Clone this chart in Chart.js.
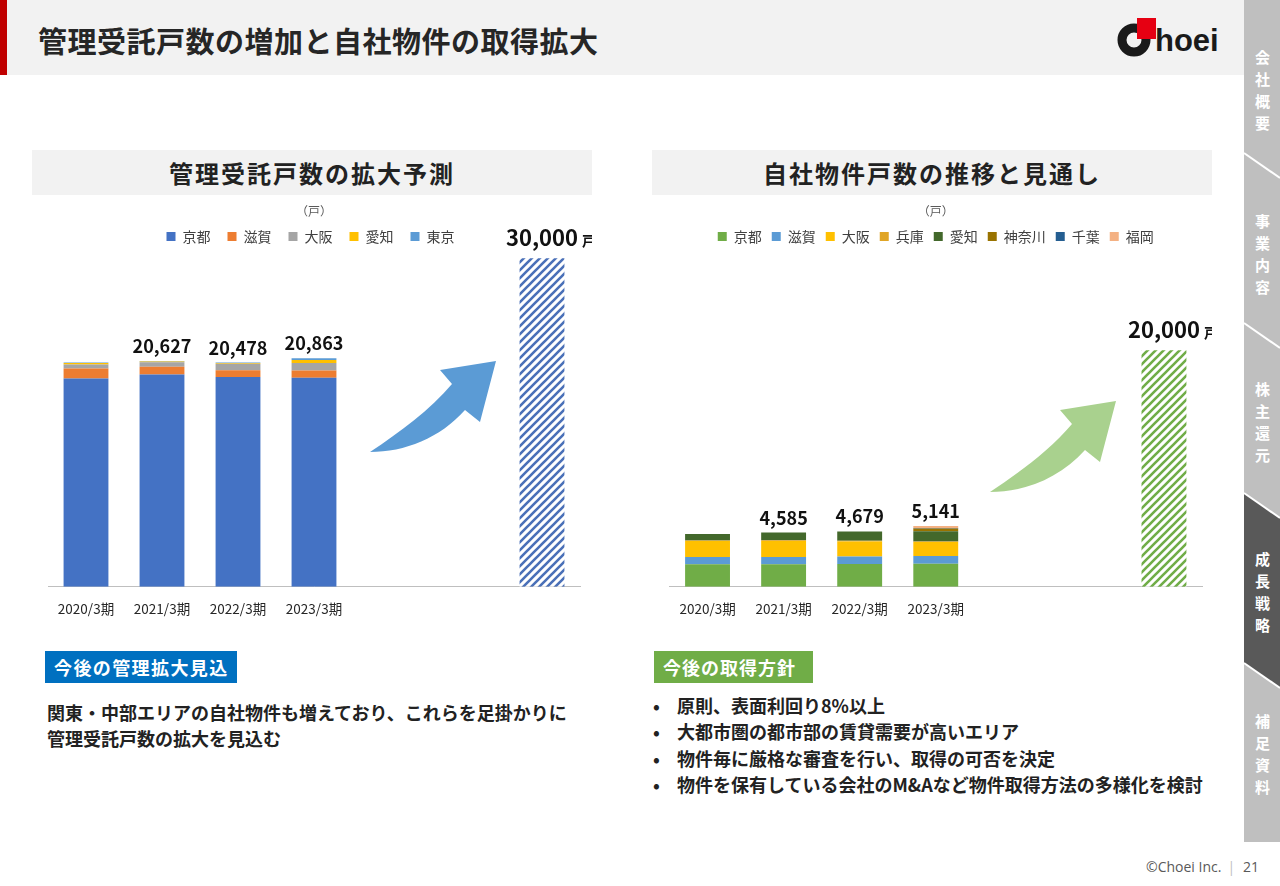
<!DOCTYPE html>
<html lang="ja">
<head>
<meta charset="UTF-8">
<title>管理受託戸数の増加と自社物件の取得拡大</title>
<script src="https://cdn.jsdelivr.net/npm/chart.js"></script>
<style>
  body { margin: 0; width: 1280px; height: 886px; overflow: hidden; background: #fff;
         font-family: 'Noto Sans CJK JP', sans-serif; color: #222; position: relative; }
  .abs { position: absolute; }
  .header { left: 0; top: 0; width: 1244px; height: 75px; background: #f2f2f2; }
  .redbar { left: 0; top: 0; width: 7px; height: 75px; background: #c00000; }
  .title { left: 38px; top: 22px; font-size: 29px; line-height: 36px; font-weight: 700; color: #262626; letter-spacing: 0.5px; }
  .ptitle { top: 150px; width: 560px; height: 45px; background: #f2f2f2; text-align: center;
            font-size: 24px; line-height: 45px; font-weight: 700; letter-spacing: 2px; color: #222; }
  .tag { top: 651px; height: 32px; color: #fff; font-size: 18px; line-height: 32px; font-weight: 700;
         padding-left: 9px; box-sizing: border-box; }
  .body { left: 47px; top: 699px; font-size: 18px; line-height: 26px; font-weight: 700; }
  .bullets { left: 653px; top: 692px; margin: 0; padding: 0; list-style: none; font-size: 18px;
             line-height: 26.3px; font-weight: 700; }
  .bullets li span { display: inline-block; width: 24px; }
  .side { width: 36px; left: 1244px; color: #fff; font-size: 15px; font-weight: 700;
          writing-mode: vertical-rl; letter-spacing: 7px; text-align: center; line-height: 36px; }
  .foot { left: 1146px; top: 857px; font-size: 14px; color: #595959; font-family: 'Open Sans', sans-serif; }
  .foot i { font-style: normal; color: #bfbfbf; margin: 0 8px 0 6px; }
</style>
</head>
<body>
<div class="abs header"></div>
<div class="abs redbar"></div>
<div class="abs title">管理受託戸数の増加と自社物件の取得拡大</div>

<svg class="abs" style="left:0;top:0" width="1280" height="886">
  <!-- side navigation -->
  <rect x="1244" y="0" width="36" height="842" fill="#bfbfbf"/>
  <polygon points="1244,493 1280,518 1280,688 1244,663" fill="#595959"/>
  <g stroke="#fff" stroke-width="2">
    <line x1="1244" y1="153" x2="1280" y2="178"/>
    <line x1="1244" y1="323" x2="1280" y2="348"/>
    <line x1="1244" y1="493" x2="1280" y2="518"/>
    <line x1="1244" y1="663" x2="1280" y2="688"/>
  </g>
  <!-- logo -->
  <circle cx="1134" cy="40" r="12" fill="none" stroke="#1a1a1a" stroke-width="9"/>
  <rect x="1137" y="18" width="19" height="21" fill="#e60012"/>
  <text x="1155" y="51" font-family="Liberation Sans, Arial, sans-serif" font-weight="700" font-size="31" fill="#1a1a1a">hoei</text>
  <!-- arrows -->
  <path d="M370 452 C405 452 440 438 465 410 L480 422 L496 361 L440 370 L452 384 C430 410 400 432 370 452 Z" fill="#5b9bd5"/>
  <path d="M370 452 C405 452 440 438 465 410 L480 422 L496 361 L440 370 L452 384 C430 410 400 432 370 452 Z" fill="#a9d18e" transform="translate(620,40)"/>
</svg>

<div class="abs side" style="top:50px">会社概要</div>
<div class="abs side" style="top:214px">事業内容</div>
<div class="abs side" style="top:382px">株主還元</div>
<div class="abs side" style="top:552px">成長戦略</div>
<div class="abs side" style="top:714px">補足資料</div>

<div class="abs ptitle" style="left:32px">管理受託戸数の拡大予測</div>
<div class="abs ptitle" style="left:652px">自社物件戸数の推移と見通し</div>

<div class="abs" style="left:32px;top:198px"><canvas id="mgmtChart" width="560" height="436"></canvas></div>
<div class="abs" style="left:652px;top:198px"><canvas id="ownChart" width="560" height="436"></canvas></div>

<div class="abs tag" style="left:45px;width:192px;background:#0070c0;letter-spacing:1.4px">今後の管理拡大見込</div>
<div class="abs body">関東・中部エリアの自社物件も増えており、これらを足掛かりに<br>管理受託戸数の拡大を見込む</div>

<div class="abs tag" style="left:654px;width:159px;background:#70ad47;letter-spacing:1px">今後の取得方針</div>
<ul class="abs bullets">
  <li><span>•</span>原則、表面利回り8%以上</li>
  <li><span>•</span>大都市圏の都市部の賃貸需要が高いエリア</li>
  <li><span>•</span>物件毎に厳格な審査を行い、取得の可否を決定</li>
  <li><span>•</span>物件を保有している会社のM&amp;Aなど物件取得方法の多様化を検討</li>
</ul>

<div class="abs foot">©Choei Inc.<i>|</i>21</div>

<script>
// 期（最後の3枠は空き枠と目標）
const periods = ['2020/3期', '2021/3期', '2022/3期', '2023/3期', '', '', ''];

// 管理受託戸数（戸）
const mgmtKyoto = [19030, 19400, 19150, 19100];
const mgmtShiga = [900, 690, 620, 650];
const mgmtOsaka = [370, 420, 600, 700];
const mgmtAichi = [150, 60, 60, 260];
const mgmtTokyo = [30, 57, 48, 153];
const mgmtTarget = 30000;

// 自社物件戸数（戸）
const ownKyoto = [1900, 1900, 1920, 1950];
const ownShiga = [620, 620, 640, 650];
const ownOsaka = [1355, 1355, 1270, 1180];
const ownHyogo = [50, 60, 60, 60];
const ownAichi = [535, 650, 789, 850];
const ownKanagawa = [0, 0, 0, 240];
const ownChiba = [0, 0, 0, 41];
const ownFukuoka = [0, 0, 0, 170];
const ownTarget = 20000;

// 合計を表示する列
const totalIdx = [1, 2, 3];
const targetIdx = 6;

Chart.defaults.font.family = "'Noto Sans CJK JP', sans-serif";
Chart.defaults.color = '#404040';

function stripes(color) {
  const c = document.createElement('canvas');
  c.width = 8; c.height = 8;
  const g = c.getContext('2d');
  g.fillStyle = '#fff';
  g.fillRect(0, 0, 8, 8);
  g.strokeStyle = color;
  g.lineWidth = 2.6;
  g.beginPath();
  g.moveTo(-1, 9); g.lineTo(9, -1);
  g.moveTo(-5, 5); g.lineTo(5, -5);
  g.moveTo(3, 13); g.lineTo(13, 3);
  g.stroke();
  return g.createPattern(c, 'repeat');
}

function pad(arr) {
  return periods.map((_, i) => i < arr.length ? arr[i] : null);
}

function targetData(v) {
  return periods.map((_, i) => i === targetIdx ? v : null);
}

// 積み上げ合計と目標値のラベル
const totalsPlugin = {
  id: 'totals',
  afterDatasetsDraw(chart) {
    const { ctx, scales: { x, y } } = chart;
    ctx.save();
    ctx.fillStyle = '#111';
    ctx.textAlign = 'center';
    ctx.textBaseline = 'alphabetic';
    totalIdx.forEach(i => {
      let sum = 0;
      chart.data.datasets.forEach(ds => { sum += ds.data[i] || 0; });
      ctx.font = "700 18px 'Noto Sans CJK JP'";
      ctx.fillText(sum.toLocaleString('en-US'), x.getPixelForValue(i), y.getPixelForValue(sum) - 8);
    });
    let t = 0;
    chart.data.datasets.forEach(ds => { t += ds.data[targetIdx] || 0; });
    const tx = x.getPixelForValue(targetIdx), ty = y.getPixelForValue(t) - 12;
    ctx.font = "700 22px 'Noto Sans CJK JP'";
    const s = t.toLocaleString('en-US');
    ctx.fillText(s, tx, ty);
    const w = ctx.measureText(s).width;
    ctx.font = "700 14px 'Noto Sans CJK JP'";
    ctx.textAlign = 'left';
    ctx.fillText('戸', tx + w / 2 + 4, ty);
    ctx.restore();
  }
};

function makeChart(id, sets, target, stripeColor, yMax, padL, padR, gap) {
  const datasets = sets.map(s => ({
    label: s[0], data: pad(s[1]), backgroundColor: s[2], stack: 's'
  }));
  datasets.push({ label: '目標', data: targetData(target), backgroundColor: stripes(stripeColor), stack: 's' });
  const n = sets.length;
  return new Chart(document.getElementById(id), {
    type: 'bar',
    data: { labels: periods, datasets: datasets },
    options: {
      responsive: false,
      animation: false,
      categoryPercentage: 0.59,
      barPercentage: 1,
      layout: { padding: { left: padL, right: padR, top: 0, bottom: 3 } },
      plugins: {
        title: { display: true, text: '（戸）', color: '#595959', font: { size: 12, weight: 'normal' },
                 padding: { top: 6, bottom: 1 } },
        legend: {
          labels: {
            boxWidth: 9, boxHeight: 9, padding: 10, color: '#404040', font: { size: 14 },
            generateLabels: chart => Chart.defaults.plugins.legend.labels.generateLabels(chart)
              .filter(l => l.datasetIndex < n)
              .map(l => Object.assign(l, { text: l.text + gap }))
          }
        },
        tooltip: { enabled: false }
      },
      scales: {
        x: {
          stacked: true,
          grid: { display: false, drawTicks: false },
          border: { display: true, color: '#bfbfbf', width: 1 },
          ticks: { padding: 14, color: '#262626', font: { size: 13.5 } }
        },
        y: { stacked: true, display: false, min: 0, max: yMax }
      }
    },
    plugins: [totalsPlugin]
  });
}

makeChart('mgmtChart', [
  ['京都', mgmtKyoto, '#4472c4'],
  ['滋賀', mgmtShiga, '#ed7d31'],
  ['大阪', mgmtOsaka, '#a5a5a5'],
  ['愛知', mgmtAichi, '#ffc000'],
  ['東京', mgmtTokyo, '#5b9bd5']
], mgmtTarget, '#4a70b8', 30450, 16, 12, '\u2002');

makeChart('ownChart', [
  ['京都', ownKyoto, '#70ad47'],
  ['滋賀', ownShiga, '#5b9bd5'],
  ['大阪', ownOsaka, '#ffc000'],
  ['兵庫', ownHyogo, '#e0a526'],
  ['愛知', ownAichi, '#43682b'],
  ['神奈川', ownKanagawa, '#997300'],
  ['千葉', ownChiba, '#255e91'],
  ['福岡', ownFukuoka, '#f4b183']
], ownTarget, '#70ad47', 28200, 17.5, 10, '');
</script>
</body>
</html>
